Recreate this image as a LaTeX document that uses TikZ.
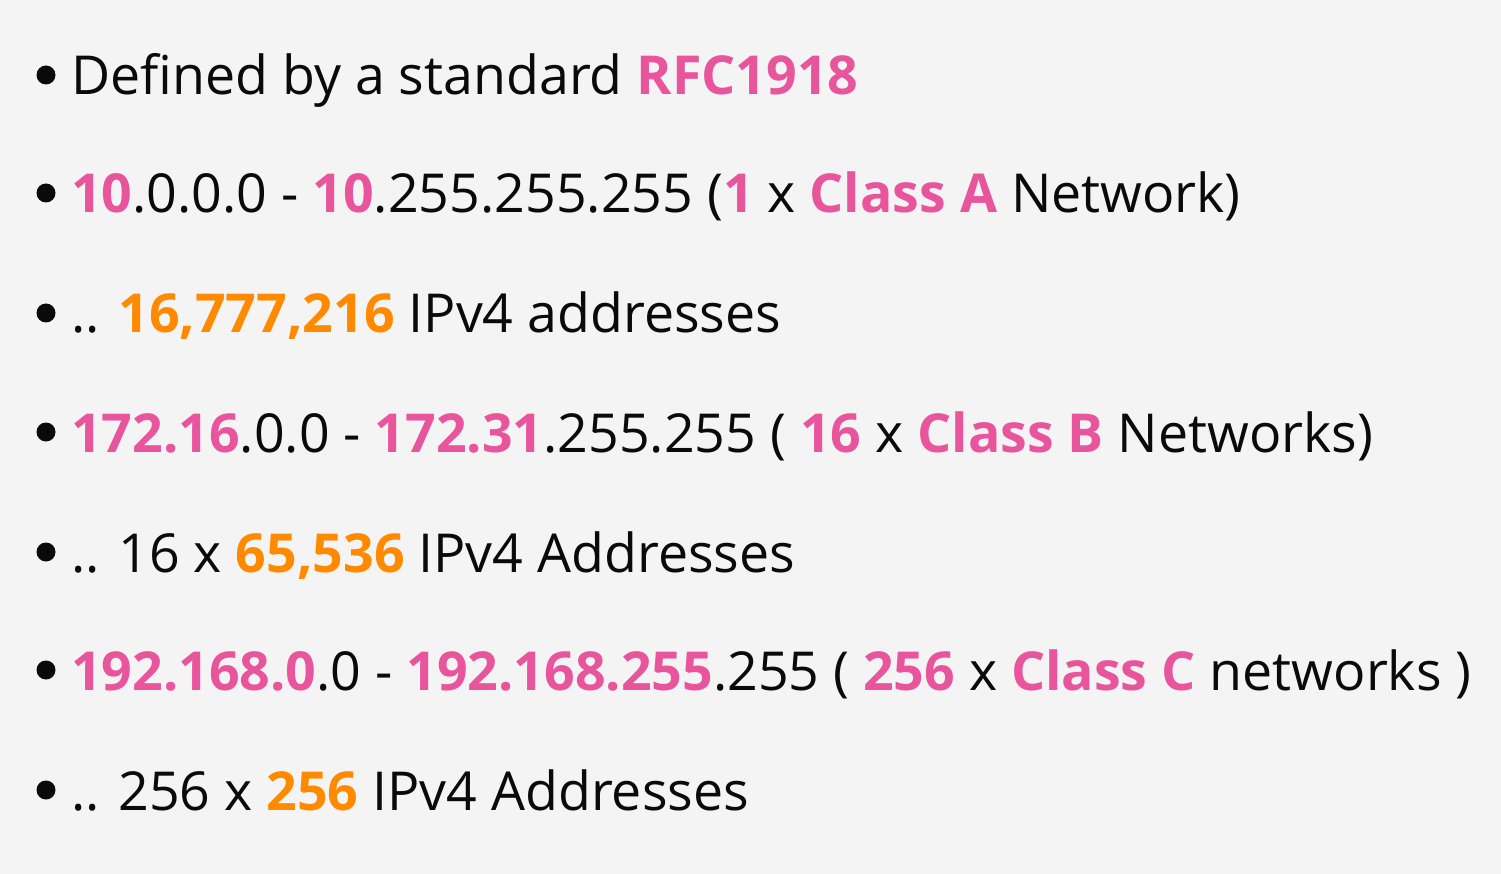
\documentclass[tikz,border=0pt]{standalone}
\usepackage{fontspec}
\setmainfont{Open Sans}
\usetikzlibrary{positioning}
\definecolor{slidebg}{HTML}{F4F4F4}
\definecolor{rfcpink}{HTML}{E8559C}
\definecolor{rfcorange}{HTML}{FF8A00}
\definecolor{ink}{HTML}{0A0A0A}
\newcommand{\pk}[1]{{\bfseries\color{rfcpink}#1}}
\newcommand{\og}[1]{{\bfseries\color{rfcorange}#1}}

\begin{document}
\begin{tikzpicture}[x=1pt,y=-1pt,
  item/.style={anchor=base west, inner sep=0pt, text=ink, font=\fontsize{53.7}{58}\selectfont},
  dot/.style={circle, fill=ink, minimum size=19pt, inner sep=0pt}]
\fill[slidebg] (0,0) rectangle (1501,874);
\useasboundingbox (0,0) rectangle (1501,874);
% bullets
\foreach \y [count=\i] in {95,213,333,452,572,690,810}
  \node[dot] (b\i) at (46,\y-20) {};
\node[item] (l1) at (71,95) {Defined by a standard \pk{RFC1918}};
\node[item] (l2) at (71,213) {\pk{10}.0.0.0 - \pk{10}.255.255.255 (\pk{1} x \pk{Class A} Network)};
\node[item] (l3) at (71,333) {.. \og{16,777,216} IPv4 addresses};
\node[item] (l4) at (71,452) {\pk{172.16}.0.0 - \pk{172.31}.255.255 ( \pk{16} x \pk{Class B} Networks)};
\node[item] (l5) at (71,572) {.. 16 x \og{65,536} IPv4 Addresses};
\node[item] (l6) at (71,690) {\pk{192.168.0}.0 - \pk{192.168.255}.255 ( \pk{256} x \pk{Class C} networks )};
\node[item] (l7) at (71,810) {.. 256 x \og{256} IPv4 Addresses};
\end{tikzpicture}
\end{document}
